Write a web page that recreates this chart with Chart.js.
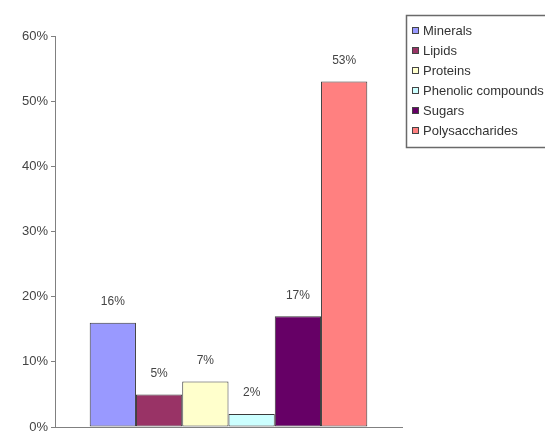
<!DOCTYPE html>
<html>
<head>
<meta charset="utf-8">
<script src="https://cdn.jsdelivr.net/npm/chart.js@4.4.1/dist/chart.umd.min.js"></script>
<style>
  html, body { margin: 0; padding: 0; background: #ffffff; }
  #wrap { width: 545px; height: 432px; position: relative; }
</style>
</head>
<body>
<div id="wrap"><canvas id="c" width="545" height="432"></canvas></div>
<script>
// ---- data ----
const categories = ['Composition'];
const seriesNames = ['Minerals', 'Lipids', 'Proteins', 'Phenolic compounds', 'Sugars', 'Polysaccharides'];
const seriesValues = [16, 5, 7, 2, 17, 53];
const yTickValues = [0, 10, 20, 30, 40, 50, 60];

// ---- styles ----
const seriesColors = ['#9999FF', '#993366', '#FFFFCC', '#CCFFFF', '#660066', '#FF8080'];
const FONT = "'Liberation Sans', Arial, sans-serif";

const datasets = seriesNames.map((name, i) => ({
  label: name,
  data: [seriesValues[i]],
  backgroundColor: seriesColors[i],
  borderColor: '#3a3a3a',
  borderWidth: 1,
  borderSkipped: false,
  categoryPercentage: 0.8,
  barPercentage: 1.0
}));

const valueLabels = {
  id: 'valueLabels',
  afterDatasetsDraw(chart) {
    const ctx = chart.ctx;
    ctx.save();
    ctx.font = '12px ' + FONT;
    ctx.fillStyle = '#444444';
    ctx.textAlign = 'center';
    ctx.textBaseline = 'middle';
    chart.data.datasets.forEach((ds, i) => {
      const meta = chart.getDatasetMeta(i);
      meta.data.forEach((el, j) => {
        ctx.fillText(ds.data[j] + '%', el.x, el.y - 21);
      });
    });
    ctx.restore();
  }
};

const boxLegend = {
  id: 'boxLegend',
  afterDraw(chart) {
    const ctx = chart.ctx;
    const left = chart.chartArea.right + 4;
    const top = 15;
    const rowH = 20;
    const n = chart.data.datasets.length;
    ctx.save();
    ctx.strokeStyle = '#6a6a6a';
    ctx.lineWidth = 1.5;
    ctx.strokeRect(left + 0.5, top + 0.5, 200, n * rowH + 12);
    ctx.font = '13px ' + FONT;
    ctx.textBaseline = 'middle';
    ctx.textAlign = 'left';
    chart.data.datasets.forEach((ds, i) => {
      const cy = top + 15 + i * rowH;
      ctx.fillStyle = ds.backgroundColor;
      ctx.fillRect(left + 6, cy - 3, 7, 7);
      ctx.strokeStyle = '#444444';
      ctx.lineWidth = 1;
      ctx.strokeRect(left + 6.5, cy - 2.5, 6, 6);
      ctx.fillStyle = '#333333';
      ctx.fillText(ds.label, left + 17, cy + 1);
    });
    ctx.restore();
  }
};

new Chart(document.getElementById('c'), {
  type: 'bar',
  data: { labels: categories, datasets },
  options: {
    responsive: false,
    animation: false,
    layout: { padding: { left: 0, top: 36, right: 143, bottom: 5 } },
    plugins: {
      legend: { display: false },
      tooltip: { enabled: false }
    },
    scales: {
      x: {
        grid: { display: false },
        ticks: { display: false },
        border: { display: true, color: '#808080', width: 1 },
        afterFit(scale) { scale.height = 0; scale.paddingLeft = 0; scale.paddingRight = 0; }
      },
      y: {
        min: 0,
        max: 60,
        afterBuildTicks(scale) { scale.ticks = yTickValues.map(v => ({ value: v })); },
        ticks: {
          callback: v => v + '%',
          font: { family: FONT, size: 13 },
          color: '#444444',
          padding: 3
        },
        grid: { display: true, drawOnChartArea: false, drawTicks: true, tickLength: 4, color: '#808080' },
        border: { display: true, color: '#808080', width: 1 },
        afterFit(scale) { scale.width = 55; scale.paddingTop = 0; scale.paddingBottom = 0; }
      }
    }
  },
  plugins: [valueLabels, boxLegend]
});
</script>
</body>
</html>
